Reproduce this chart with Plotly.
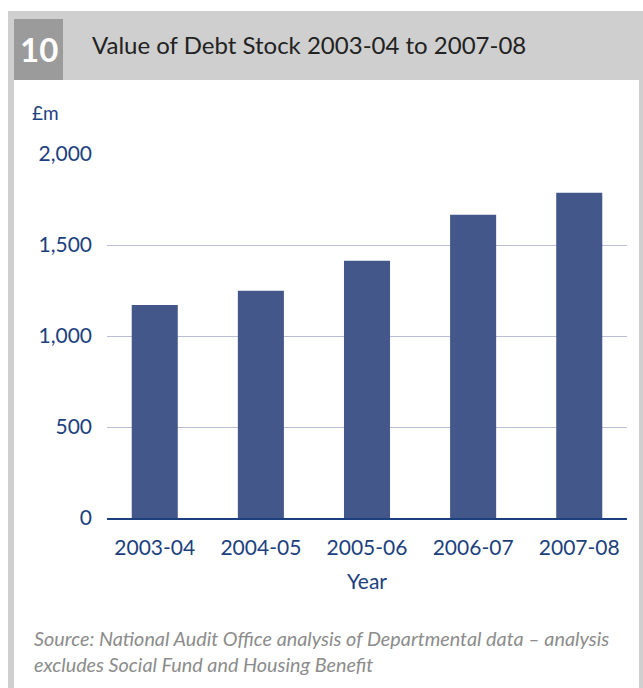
import plotly.graph_objects as go

years = ["2003-04", "2004-05", "2005-06", "2006-07", "2007-08"]
debt_stock = [1171, 1248, 1413, 1666, 1787]
y_ticks = [0, 500, 1000, 1500, 2000]
y_tick_labels = ["0", "500", "1,000", "1,500", "2,000"]

W, H = 643, 688
L, R = 107, 627   # plot area px
T, B = 154, 518

def px(x):
    return (x - L) / (R - L)

def py(y):
    return (B - y) / (B - T)

FONT = "Lato"
BLUE_TXT = "#1c3f7e"

fig = go.Figure(go.Bar(
    x=years, y=debt_stock, marker=dict(color="#43578a", line=dict(width=0)),
    hoverinfo="x+y",
))

shapes = [
    # header bar
    dict(type="rect", xref="paper", yref="paper", x0=px(8), x1=px(643), y0=py(80), y1=py(11),
         fillcolor="#cfcfcf", line=dict(width=0), layer="below"),
    dict(type="rect", xref="paper", yref="paper", x0=px(14), x1=px(63), y0=py(80), y1=py(19),
         fillcolor="#9b9b9b", line=dict(width=0), layer="below"),
    # frame borders
    dict(type="rect", xref="paper", yref="paper", x0=px(8), x1=px(14), y0=py(700), y1=py(80),
         fillcolor="#cfcfcf", line=dict(width=0), layer="below"),
    dict(type="rect", xref="paper", yref="paper", x0=px(639), x1=px(643), y0=py(700), y1=py(80),
         fillcolor="#cfcfcf", line=dict(width=0), layer="below"),
]

annotations = [
    dict(text="<b>10</b>", x=px(38.5), y=py(49), xref="paper", yref="paper", showarrow=False,
         font=dict(family=FONT, size=33, color="white"), xanchor="center", yanchor="middle"),
    dict(text="Value of Debt Stock 2003-04 to 2007-08", x=px(90), y=py(45), xref="paper", yref="paper",
         showarrow=False, font=dict(family=FONT, size=24, color="#222222"), xanchor="left", yanchor="middle"),
    dict(text="£m", x=px(30), y=py(113), xref="paper", yref="paper", showarrow=False,
         font=dict(family=FONT, size=19, color=BLUE_TXT), xanchor="left", yanchor="middle"),
    dict(text="<i>Source: National Audit Office analysis of Departmental data – analysis<br>excludes Social Fund and Housing Benefit</i>",
         x=px(32), y=py(624), xref="paper", yref="paper", showarrow=False, align="left",
         font=dict(family=FONT, size=19.8, color="#8c8c8c"), xanchor="left", yanchor="top"),
]

fig.update_layout(
    width=W, height=H,
    margin=dict(l=L, r=W - R, t=T, b=H - B, pad=0),
    paper_bgcolor="white", plot_bgcolor="white",
    bargap=0.566,
    showlegend=False,
    shapes=shapes,
    annotations=annotations,
    xaxis=dict(
        type="category", range=[-0.45, 4.45], showgrid=False, showline=True,
        linecolor="#1c3f7e", linewidth=1.5,
        ticks="", tickfont=dict(family=FONT, size=21, color=BLUE_TXT), ticklabelstandoff=10,
        title=dict(text="Year", font=dict(family=FONT, size=21, color=BLUE_TXT), standoff=16),
        zeroline=False,
    ),
    yaxis=dict(
        range=[0, 2000], tickvals=y_ticks, ticktext=y_tick_labels,
        showgrid=True, gridcolor="#b9bdd8", gridwidth=1.2, zeroline=False,
        showline=False, ticks="", ticklabelstandoff=14,
        tickfont=dict(family=FONT, size=21, color=BLUE_TXT),
    ),
)

fig.write_html("out.html")
